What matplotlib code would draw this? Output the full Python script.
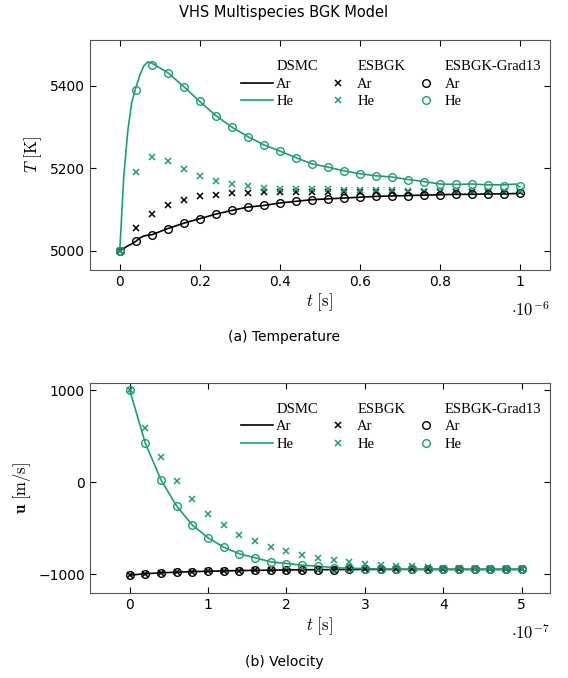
import matplotlib.pyplot as plt
from matplotlib.lines import Line2D

plt.rcParams['mathtext.fontset'] = 'cm'
GREEN = '#1b9e77'

# temperature, t in 1e-6 s
t_T = [i * 0.04 for i in range(26)]
T_dsmc_t = [0, 0.01, 0.02, 0.03, 0.04, 0.05, 0.06, 0.07, 0.08, 0.12, 0.16, 0.2, 0.24, 0.28, 0.32, 0.36, 0.4,
            0.44, 0.48, 0.52, 0.56, 0.6, 0.64, 0.68, 0.72, 0.76, 0.8, 0.84, 0.88, 0.92, 0.96, 0.99, 1.0]
T_dsmc_he = [5000, 5180, 5290, 5360, 5395, 5425, 5448, 5458, 5455, 5432, 5398, 5362, 5328, 5300, 5277, 5257, 5242,
             5226, 5211, 5203, 5194, 5187, 5182, 5179, 5173, 5168, 5162, 5161, 5162, 5160, 5160, 5162, 5155]
T_dsmc_ar = [5000, 5006, 5012, 5017, 5023, 5031, 5036, 5038, 5039, 5054, 5067, 5078, 5089, 5098, 5106, 5110, 5116,
             5120, 5124, 5126, 5128, 5130, 5132, 5133, 5134, 5135, 5136, 5137, 5137, 5138, 5138, 5139, 5140]
T_g13_he = [5000, 5390, 5451, 5432, 5398, 5362, 5328, 5300, 5277, 5257, 5242, 5226, 5211, 5203, 5194, 5187,
            5182, 5179, 5172, 5167, 5162, 5161, 5161, 5159, 5158, 5156]
T_g13_ar = [5000, 5023, 5039, 5054, 5067, 5078, 5089, 5098, 5106, 5110, 5116, 5120, 5124, 5126, 5128, 5130,
            5132, 5133, 5134, 5135, 5136, 5137, 5137, 5138, 5138, 5140]
T_es_he = [5000, 5192, 5227, 5218, 5199, 5182, 5170, 5162, 5156, 5153, 5151, 5150, 5149, 5149, 5148, 5148,
           5147, 5147, 5146, 5146, 5146, 5146, 5145, 5145, 5145, 5145]
T_es_ar = [5000, 5055, 5090, 5110, 5123, 5132, 5136, 5140, 5141, 5142, 5142, 5143, 5143, 5143, 5143, 5143,
           5143, 5143, 5143, 5143, 5143, 5143, 5143, 5143, 5143, 5143]

# velocity, t in 1e-7 s
t_u = [i * 0.2 for i in range(26)]
u_he = [1000, 420, 22, -261, -467, -605, -707, -779, -822, -866, -884, -902, -913, -928, -935, -940,
        -943, -945, -946, -947, -947, -948, -948, -948, -948, -948]
u_ar = [-1010, -995, -985, -978, -972, -968, -964, -961, -958, -956, -954, -952, -951, -950, -949, -948,
        -948, -948, -948, -948, -948, -948, -948, -948, -948, -948]
u_es_he = [1000, 583, 268, 14, -185, -341, -467, -569, -641, -710, -750, -793, -826, -848, -866, -884,
           -895, -906, -913, -920, -928, -935, -940, -944, -946, -948]

fig = plt.figure(figsize=(5.68, 6.78), dpi=100)
fig.text(0.5, 0.982, 'VHS Multispecies BGK Model', ha='center', va='center', fontsize=10.5)

ms_o = dict(marker='o', ms=5.5, mfc='none', mew=1.0, ls='none')
ms_x = dict(marker='x', ms=3.8, mew=1.1, ls='none')


def add_legend(ax):
    blank = Line2D([], [], ls='none')
    h = [blank, Line2D([], [], c='k', lw=1.2), Line2D([], [], c=GREEN, lw=1.2),
         blank, Line2D([], [], c='k', **ms_x), Line2D([], [], c=GREEN, **ms_x),
         blank, Line2D([], [], c='k', **ms_o), Line2D([], [], c=GREEN, **ms_o)]
    lab = ['DSMC', 'Ar', 'He', 'ESBGK', 'Ar', 'He', 'ESBGK-Grad13', 'Ar', 'He']
    ax.legend(h, lab, ncol=3, loc='upper right', frameon=False, handlelength=2.2, handletextpad=0.2,
              columnspacing=0.3, labelspacing=0.3,
              prop={'family': 'Liberation Serif', 'size': 10.5}, bbox_to_anchor=(1.01, 0.97))


def style(ax):
    ax.tick_params(direction='in', top=True, right=True, labelsize=10, length=4)
    for s in ax.spines.values():
        s.set_color('#555555')


ax1 = fig.add_axes([0.158, 0.602, 0.81, 0.339])
ax1.plot(T_dsmc_t, T_dsmc_ar, c='k', lw=1.2)
ax1.plot(T_dsmc_t, T_dsmc_he, c=GREEN, lw=1.2)
ax1.plot(t_T, T_es_ar, c='k', **ms_x)
ax1.plot(t_T, T_es_he, c=GREEN, **ms_x)
ax1.plot(t_T, T_g13_ar, c='k', **ms_o)
ax1.plot(t_T, T_g13_he, c=GREEN, **ms_o)
ax1.set_xlim(-0.075, 1.075)
ax1.set_ylim(4954, 5511)
ax1.set_xticks([0, 0.2, 0.4, 0.6, 0.8, 1])
ax1.set_xticklabels(['0', '0.2', '0.4', '0.6', '0.8', '1'])
ax1.set_yticks([5000, 5200, 5400])
ax1.set_xlabel(r'$t\ [\mathrm{s}]$', fontsize=12, labelpad=2)
ax1.set_ylabel(r'$T\ [\mathrm{K}]$', fontsize=12)
ax1.text(1.0, -0.2, r'$\cdot 10^{-6}$', transform=ax1.transAxes, ha='right', fontsize=12)
style(ax1)
add_legend(ax1)
fig.text(0.5, 0.497, '(a) Temperature', ha='center', fontsize=10)

ax2 = fig.add_axes([0.158, 0.125, 0.81, 0.31])
ax2.plot(t_u, u_ar, c='k', lw=1.2)
ax2.plot(t_u, u_he, c=GREEN, lw=1.2)
ax2.plot(t_u, u_ar, c='k', **ms_x)
ax2.plot(t_u, u_es_he, c=GREEN, **ms_x)
ax2.plot(t_u, u_ar, c='k', **ms_o)
ax2.plot(t_u, u_he, c=GREEN, **ms_o)
ax2.set_xlim(-0.51, 5.36)
ax2.set_ylim(-1207, 1076)
ax2.set_yticks([-1000, 0, 1000])
ax2.set_yticklabels(['\u22121000', '0', '1000'])
ax2.set_xlabel(r'$t\ [\mathrm{s}]$', fontsize=12, labelpad=2)
ax2.set_ylabel(r'$\mathbf{u}\ [\mathrm{m/s}]$', fontsize=12)
ax2.text(1.0, -0.22, r'$\cdot 10^{-7}$', transform=ax2.transAxes, ha='right', fontsize=12)
style(ax2)
add_legend(ax2)
fig.text(0.5, 0.018, '(b) Velocity', ha='center', fontsize=10)

fig.savefig('out.png', dpi=100)
